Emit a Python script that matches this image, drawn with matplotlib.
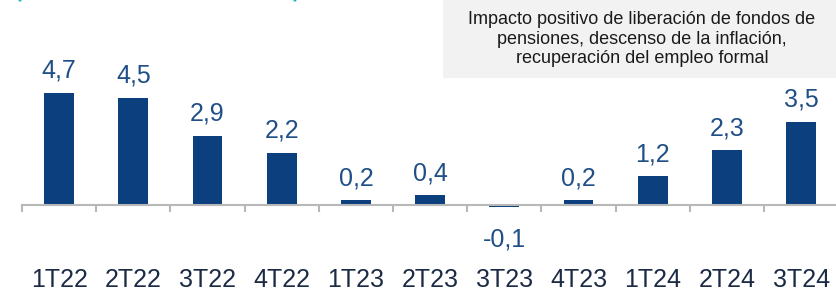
import matplotlib.pyplot as plt
from matplotlib.patches import Arc, Rectangle
from matplotlib.transforms import blended_transform_factory

plt.rcParams["font.family"] = ["Liberation Sans", "DejaVu Sans"]

quarters = ["1T22", "2T22", "3T22", "4T22", "1T23", "2T23", "3T23", "4T23", "1T24", "2T24", "3T24"]
growth = [4.7, 4.5, 2.9, 2.2, 0.2, 0.4, -0.1, 0.2, 1.2, 2.3, 3.5]
note = "Impacto positivo de liberación de fondos de\npensiones, descenso de la inflación,\nrecuperación del empleo formal"

bar_color = "#0b3f7e"
label_color = "#1f4f86"
cat_color = "#1b2a45"

W, H = 836, 297
fig = plt.figure(figsize=(W / 100, H / 100), dpi=100)

# axes spanning full height; baseline at 92 px from bottom, ~23.8 px per unit
ppu = 23.8
base = 92
x0 = 22
step = 74.2
ax = fig.add_axes([x0 / W, 0, (step * len(quarters)) / W, 1])
ax.set_xlim(-0.5, len(quarters) - 0.5)
ax.set_ylim(-base / ppu, (H - base) / ppu)

xs = list(range(len(quarters)))
ax.bar(xs, growth, width=0.4, color=bar_color, zorder=2)

for x, v in zip(xs, growth):
    txt = f"{v:.1f}".replace(".", ",")
    off = 16 if v >= 0 else -23
    ax.annotate(txt, (x, v), xytext=(0, off),
                textcoords="offset points", ha="center", va="center",
                fontsize=18, color=label_color)

tr = blended_transform_factory(ax.transData, ax.transAxes)
for x, q in zip(xs, quarters):
    ax.text(x, 17 / H, q, transform=tr, ha="center", va="center",
            fontsize=18, color=cat_color)

for s in ["top", "right", "left"]:
    ax.spines[s].set_visible(False)
ax.spines["bottom"].set_position(("data", 0))
ax.spines["bottom"].set_color("#b8b8b8")
ax.spines["bottom"].set_linewidth(1.5)
ax.set_yticks([])
ax.set_xticks([i - 0.5 for i in range(len(quarters))])
ax.set_xticklabels([])
ax.tick_params(axis="x", direction="out", length=5, width=1.5, color="#b8b8b8")

# note box top right
fig.patches.append(Rectangle((443 / W, 1 - 78 / H), 1 - 443 / W, 78 / H + 0.01,
                             transform=fig.transFigure, facecolor="#f2f2f2",
                             edgecolor="none", zorder=0))
fig.text(642 / W, 1 - 39 / H, note, ha="center", va="center", fontsize=13,
         color="#1a1a1a", linespacing=1.22)

# bottoms of the cut-off brackets of a title above the picture
teal = "#1fb5b8"
fig.patches.append(Arc((30 / W, 1 + 1 / H), 20 / W, 24 / H, theta1=180, theta2=215,
                       transform=fig.transFigure, color=teal, linewidth=2))
fig.patches.append(Arc((285 / W, 1 + 1 / H), 20 / W, 24 / H, theta1=325, theta2=360,
                       transform=fig.transFigure, color=teal, linewidth=2))

fig.savefig("out.png", dpi=100)
